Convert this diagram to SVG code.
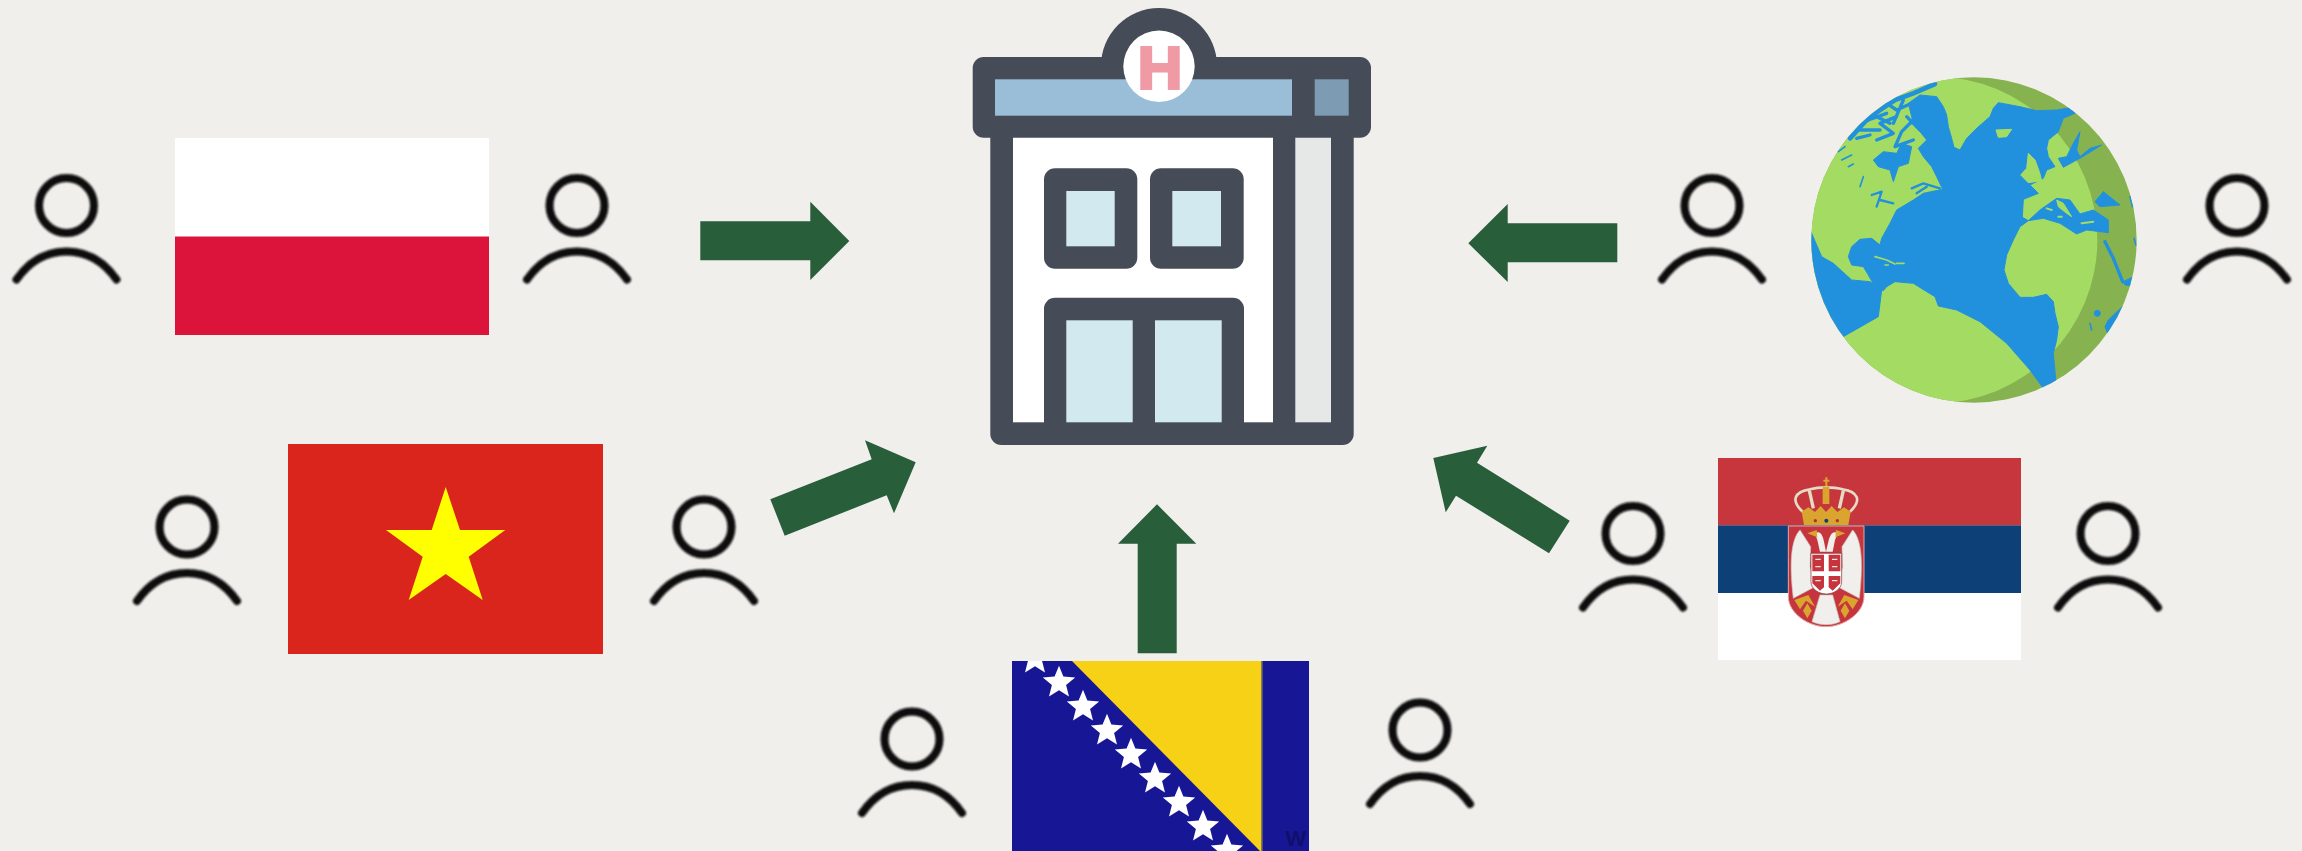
<svg xmlns="http://www.w3.org/2000/svg" width="2302" height="851" viewBox="0 0 2302 851">
<style>
.arrow{fill:#285e3a}
.dark{fill:#454c57}
.glass{fill:#d2eaef}
.ocean{fill:#2391dd;stroke:#2391dd;stroke-width:3;stroke-linejoin:round}
.land{fill:#a4dc64;stroke:#a4dc64;stroke-width:3;stroke-linejoin:round}
.strait{fill:none;stroke:#2391dd;stroke-linecap:round;stroke-linejoin:round}
.isle{fill:none;stroke:#a4dc64;stroke-linecap:round;stroke-linejoin:round}
.person{fill:none;stroke:#0a0a0a;stroke-width:8;stroke-linecap:round}
.wing{fill:#f1efec;stroke:#c9c4c0;stroke-width:2}
.gold{fill:#d9a52e}
</style>
<defs>
<g id="person"><circle cx="0" cy="0" r="27.5"/><path d="M-50 74C-36 54-18 46 0 46S36 54 50 74"/></g>
<polygon id="bstar" fill="#fff" points="0,-17 4.4,-6.1 16.2,-5.25 7.1,2.3 10,13.75 0,7.5 -10,13.75 -7.1,2.3 -16.2,-5.25 -4.4,-6.1"/>
<clipPath id="bosnia-clip"><rect x="1012" y="661" width="297" height="190"/></clipPath>
<clipPath id="globe-clip"><circle cx="582" cy="540" r="488"/></clipPath>
<filter id="soft" x="-5%" y="-5%" width="110%" height="110%"><feGaussianBlur stdDeviation="0.7"/></filter>
<filter id="soft-person" x="-10%" y="-10%" width="120%" height="120%"><feGaussianBlur stdDeviation="0.8"/></filter>
</defs>
<rect width="2302" height="851" fill="#f0efeb"/>

<g id="connectors">
<polygon class="arrow" points="700.3,221.3 810.3,221.3 810.3,201.7 849.3,241 810.3,280 810.3,260.3 700.3,260.3"/>
<polygon class="arrow" points="1617.3,223.3 1507.7,223.3 1507.7,204 1468.3,243.3 1507.7,282 1507.7,262.3 1617.3,262.3"/>
<polygon class="arrow" points="770.3,499.3 871.7,459.3 865,440.3 915.7,462.3 894,513.3 886.7,495.3 784.7,535.7"/>
<polygon class="arrow" points="1569.7,520.7 1477,462.7 1487.3,445.7 1433.3,458 1445.7,512.3 1456,495.7 1549,553.3"/>
<polygon class="arrow" points="1137.7,653.3 1137.7,543.7 1118,543.7 1157,504.3 1196.3,543.7 1176.7,543.7 1176.7,653.3"/>
</g>

<g id="hospital">
<rect class="dark" x="990.3" y="100" width="363.4" height="345" rx="11"/>
<rect x="1013" y="137" width="260" height="285.3" fill="#fff"/>
<rect x="1295.3" y="137" width="35.7" height="285.3" fill="#e6e8e7"/>
<rect class="dark" x="1044" y="168.3" width="93.3" height="100.4" rx="11"/>
<rect class="glass" x="1066.3" y="191" width="48.4" height="55.3"/>
<rect class="dark" x="1150" y="168.3" width="93.7" height="100.4" rx="11"/>
<rect class="glass" x="1172.3" y="191" width="48.7" height="55.3"/>
<rect class="dark" x="1044" y="297.7" width="200" height="147.3" rx="11"/>
<rect class="glass" x="1066.3" y="320.3" width="66.4" height="102"/>
<rect class="glass" x="1155" y="320.3" width="66.7" height="102"/>
<circle class="dark" cx="1159" cy="66" r="58"/>
<rect class="dark" x="972.7" y="57" width="398.3" height="80.7" rx="11"/>
<rect x="995" y="79.3" width="297" height="36.4" fill="#9abdd8"/>
<rect x="1314.7" y="79.3" width="34" height="36.4" fill="#7d9bb3"/>
<circle cx="1159" cy="66.3" r="35.7" fill="#fff"/>
<text x="1160" y="90" text-anchor="middle" font-family="Inter,'Liberation Sans',Arial,sans-serif" font-weight="900" font-size="60" fill="#ef9aa5">H</text>
</g>

<g id="flag-poland">
<rect x="175" y="138" width="314" height="197" fill="#fff"/>
<rect x="175" y="236.5" width="314" height="98.5" fill="#dc143c"/>
</g>

<g id="flag-vietnam">
<rect x="288" y="444" width="315" height="210" fill="#da251d"/>
<polygon fill="#ffff00" points="445.7,487 460,530 505.3,530 468.7,556.7 482.7,600 445.7,574 408.7,600 422.7,556.7 386,530 431.7,530"/>
</g>

<g id="flag-bosnia">
<rect x="1012" y="661" width="297" height="190" fill="#171796"/>
<polygon points="1072,661 1262,661 1262,851 1260,851" fill="#f7d116"/>
<rect x="1261" y="661" width="1.6" height="190" fill="#7c7a5e"/>
<g clip-path="url(#bosnia-clip)">
<use href="#bstar" x="1035" y="658.7"/>
<use href="#bstar" x="1059" y="682.7"/>
<use href="#bstar" x="1083" y="706.7"/>
<use href="#bstar" x="1107" y="730.7"/>
<use href="#bstar" x="1131" y="754.7"/>
<use href="#bstar" x="1155" y="778.7"/>
<use href="#bstar" x="1179" y="802.7"/>
<use href="#bstar" x="1203" y="826.7"/>
<use href="#bstar" x="1227" y="850.7"/>
</g>
<text x="1296" y="846" text-anchor="middle" font-family="'Liberation Sans',Arial,sans-serif" font-weight="700" font-size="22" fill="#10106a">W</text>
</g>

<g id="flag-serbia">
<rect x="1718" y="458" width="303" height="202" fill="#fff"/>
<rect x="1718" y="458" width="303" height="67.3" fill="#c6363c"/>
<rect x="1718" y="525.3" width="303" height="67.7" fill="#0c4076"/>
<g transform="translate(1700,450) scale(.33333)" filter="url(#soft)">
<path d="M308 185C270 150 285 125 330 118C350 112 365 112 378 112C392 112 408 112 428 118C472 125 488 150 450 185" fill="none" stroke="#e5dcc5" stroke-width="8"/>
<path d="M328 122L340 175M430 122L418 175" stroke="#e5dcc5" stroke-width="10" fill="none"/>
<rect x="368" y="110" width="20" height="52" fill="#d9a52e"/>
<path d="M379 82V108M370 92H388" stroke="#d9a52e" stroke-width="6"/>
<path class="gold" d="M305 185L325 172L345 186L362 168L378 186L395 168L412 186L432 172L452 185L445 225H312Z"/>
<circle cx="346" cy="212" r="5" fill="#a33"/><circle cx="379" cy="212" r="6" fill="#0c4076"/><circle cx="412" cy="212" r="5" fill="#a33"/>
<path d="M265 228H492V440C492 490 430 530 378 530C326 530 265 490 265 440Z" fill="#c6363c" stroke="#e3a9a9" stroke-width="3"/>
<path class="wing" d="M300 240C272 270 268 340 280 445L345 410L330 350L332 290Z"/>
<path class="wing" d="M458 240C486 270 490 340 478 445L413 410L428 350L426 290Z"/>
<path d="M345 250C360 240 368 255 372 275L378 305L385 275C390 255 398 240 413 250L405 270L398 305H360L352 270Z" fill="#f1efec"/>
<path class="gold" d="M322 250L350 240L352 262ZM436 250L408 240L406 262Z"/>
<path d="M360 435H398L420 515C395 527 362 527 336 515Z" fill="#f1efec" stroke="#c9c4c0" stroke-width="2"/>
<path class="gold" d="M283 450L325 435L345 470L318 452L300 478ZM475 450L433 435L413 470L440 452L458 478Z"/>
<path class="gold" d="M322 460L335 482L322 505L309 482ZM435 460L448 482L435 505L422 482Z"/>
<path d="M333 310H425V395C425 418 400 432 379 432C358 432 333 418 333 395Z" fill="#fff" stroke="#7b2a2e" stroke-width="2"/>
<path d="M337 314H372V364H337ZM386 314H421V364H386ZM337 378H372V412L360 422L337 400ZM386 378H421V400L398 422L386 412Z" fill="#c6363c"/>
<path d="M346 328H362M346 350H362M396 328H412M396 350H412M346 392H362M396 392H412" stroke="#f1e4e4" stroke-width="4" fill="none"/>
</g>
</g>

<g id="globe" transform="translate(1780,60) scale(.33333)" filter="url(#soft)">
<circle cx="582" cy="540" r="488" fill="#86b350"/>
<g clip-path="url(#globe-clip)">
<circle cx="462" cy="540" r="490" fill="#a4dc64"/>
<path class="ocean" d="M540 270L560 235L590 205L630 170L640 145L655 128L720 140L770 152L830 150L870 143L885 160L850 175L835 215L805 240L800 265L805 290L825 320L800 330L790 355L750 375L775 400L730 418L727 472L745 482L720 500L700 540L680 585L672 630L685 670L720 712L760 712L800 703L820 725L825 760L835 800L830 840L820 880L828 965L790 985L750 930L680 850L600 785L530 750L475 738L465 710L440 695L400 670L345 665L320 680L310 692L285 680L262 640L250 620L215 615L205 590L215 560L240 538L275 535L300 555L305 535L330 490L350 450L400 420L430 400L488 388L470 350L455 320L430 290L415 265L440 240L400 190L385 130L420 105L470 110L490 140L500 165L505 200L515 235L522 262Z"/>
<path class="ocean" d="M93 515L125 590L160 610L215 660L270 665L305 690L295 770L190 830L40 830L40 515Z"/>
<path class="ocean" d="M280 300L310 275L350 280L365 250L395 260L385 310L355 320L340 365L330 330L295 320Z"/>
<path class="ocean" d="M745 482L780 450L830 415L870 420L900 462L940 450L985 480L985 518L920 510L890 522L840 490L790 475Z"/>
<path class="ocean" d="M945 425L970 395L1020 435L960 440Z"/>
<path class="ocean" d="M835 295L860 290L880 250L900 215L890 270L900 290L930 265L965 255L905 292L850 322Z"/>
<path class="ocean" d="M1032 735L1080 700L1040 830L985 825L975 800L985 780Z"/>
<path class="ocean" d="M1030 665L1060 650L1075 680L1035 675Z"/>
<path class="strait" stroke-width="10" d="M975 545L1000 595L1028 665"/>
<path class="strait" stroke-width="14" d="M465 72L400 100L345 120L300 150L255 185L210 235"/>
<path class="strait" stroke-width="10" d="M350 170L300 190L340 220L290 240M400 180L365 215L345 260L400 240M320 130L350 150L395 130M240 210L300 210M370 120L340 190M290 170L330 190M420 210L380 170M265 180L320 160M230 235L270 225"/>
<path class="strait" stroke-width="5" d="M175 275L195 260M185 300L215 285M205 320L220 312M240 380L250 350M1050 410L1058 440M1062 535L1068 555M930 790L935 810"/>
<path class="strait" stroke-width="7" d="M275 405L305 395L290 440M300 420L340 430M395 385L430 370L480 385M410 400L440 380"/>
<circle class="ocean" cx="952" cy="760" r="9"/>
<path class="land" d="M745 280L765 300L778 335L785 362L745 368L722 345L740 325Z"/>
<path class="land" d="M648 210L695 208L680 230L655 232Z"/>
<path class="land" d="M830 420L850 430L875 470L860 460L835 440Z"/>
<path class="isle" stroke-width="5" d="M285 590L320 600L345 612M350 610L372 610M315 615L325 615"/>
<path class="isle" stroke-width="6" d="M800 445L815 450M835 470L845 470M905 490L940 485"/>
<path class="isle" stroke-width="6" d="M110 525L135 580"/>
</g>
</g>

<g id="person-1" class="person" filter="url(#soft-person)"><use href="#person" x="66.5" y="205.5"/></g>
<g id="person-2" class="person" filter="url(#soft-person)"><use href="#person" x="577" y="205.5"/></g>
<g id="person-3" class="person" filter="url(#soft-person)"><use href="#person" x="187" y="527"/></g>
<g id="person-4" class="person" filter="url(#soft-person)"><use href="#person" x="704" y="527"/></g>
<g id="person-5" class="person" filter="url(#soft-person)"><use href="#person" x="912" y="739"/></g>
<g id="person-6" class="person" filter="url(#soft-person)"><use href="#person" x="1420" y="730"/></g>
<g id="person-7" class="person" filter="url(#soft-person)"><use href="#person" x="1633" y="533.5"/></g>
<g id="person-8" class="person" filter="url(#soft-person)"><use href="#person" x="2108" y="533.5"/></g>
<g id="person-9" class="person" filter="url(#soft-person)"><use href="#person" x="1712" y="205.5"/></g>
<g id="person-10" class="person" filter="url(#soft-person)"><use href="#person" x="2237" y="205.5"/></g>
</svg>
